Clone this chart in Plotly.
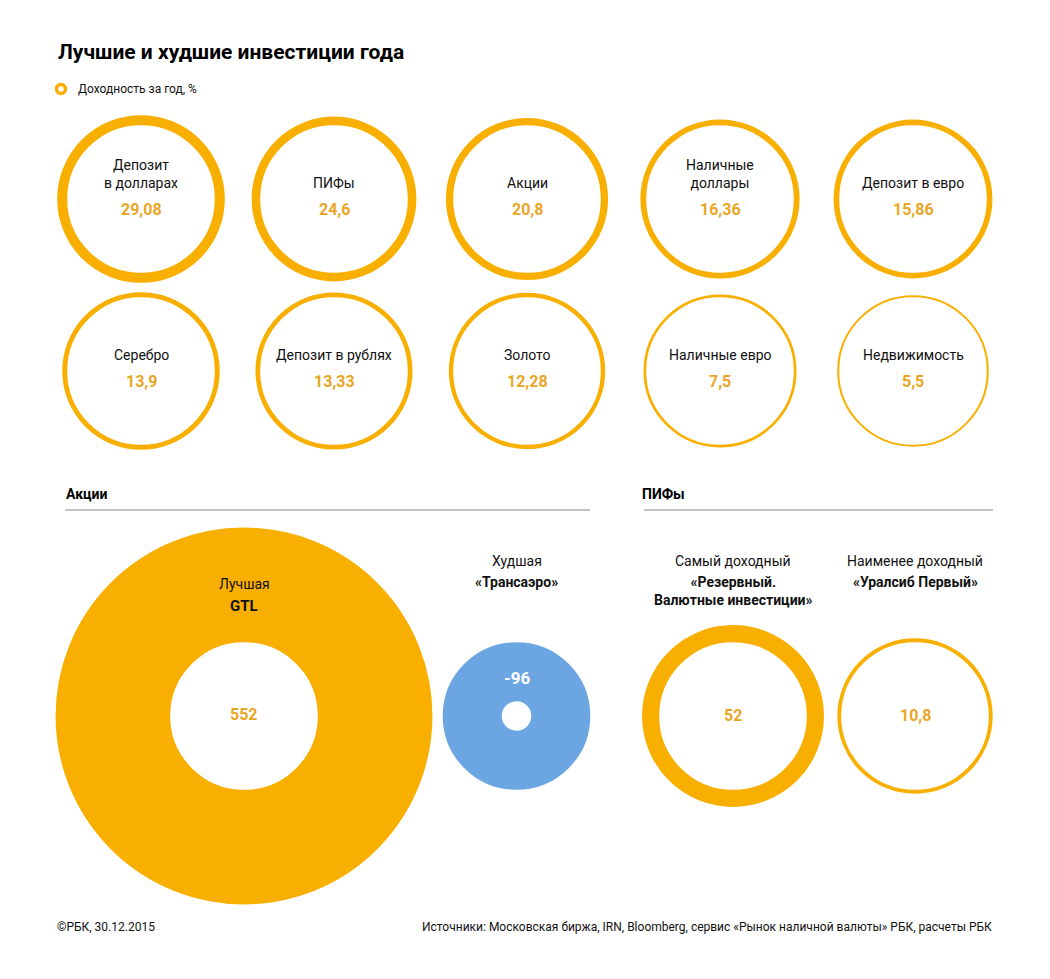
import plotly.graph_objects as go

# ---------------- data ----------------
grid_names = ["Депозит<br>в долларах", "ПИФы", "Акции", "Наличные<br>доллары", "Депозит в евро",
              "Серебро", "Депозит в рублях", "Золото", "Наличные евро", "Недвижимость"]
grid_values = [29.08, 24.6, 20.8, 16.36, 15.86, 13.9, 13.33, 12.28, 7.5, 5.5]

stock_labels = ["Лучшая", "Худшая"]
stock_names = ["GTL", "«Трансаэро»"]
stock_values = [552, -96]

fund_labels = ["Самый доходный", "Наименее доходный"]
fund_names = ["«Резервный.<br>Валютные инвестиции»", "«Уралсиб Первый»"]
fund_values = [52, 10.8]

title = "Лучшие и худшие инвестиции года"
legend_text = "Доходность за год, %"
footer_left = "©РБК, 30.12.2015"
footer_right = "Источники: Московская биржа, IRN, Bloomberg, сервис «Рынок наличной валюты» РБК, расчеты РБК"

# ---------------- style / layout ----------------
W, H = 1050, 979
ORANGE = "#F9AF00"
VAL_COL = "#E9A624"
BLUE = "#6CA6E2"
FONT = "Roboto, 'Open Sans', sans-serif"
NARROW = "'Liberation Sans Narrow', Roboto, sans-serif"

# base circle (radius R0) = initial investment (100 %);
# the ring area shows the gain: r = R0 * sqrt(1 + v/100)
R0 = 73.8

col_x = [141, 334, 527, 720, 913]
row_y = [199, 371]

big_x = [244, 516.5]
big_y = 716

fund_x = [733, 915]
fund_y = 716


def fmt(v):
    s = ("%g" % v)
    return s.replace(".", ",")


def scaled_r(v):
    return R0 * (1 + v / 100.0) ** 0.5


def ring(inner, outer):
    # marker line is stroked centred on the marker edge
    return inner + outer, outer - inner


def ring_for(v):
    r = scaled_r(v)
    return ring(min(R0, r), max(R0, r))


fig = go.Figure()
ann = []

# ----- grid of rings -----
gx, gy, gs, gw = [], [], [], []
for i, (n, v) in enumerate(zip(grid_names, grid_values)):
    x = col_x[i % 5]
    y = row_y[i // 5]
    s, w = ring_for(v)
    gx.append(x); gy.append(y); gs.append(s); gw.append(w)
    ann.append(dict(x=x, y=y - 6, text=n, yanchor="bottom", xanchor="center", showarrow=False,
                    font=dict(family=FONT, size=14, color="#111111")))
    ann.append(dict(x=x, y=y + 10, text="<b>%s</b>" % fmt(v), yanchor="middle", xanchor="center",
                    showarrow=False, font=dict(family=FONT, size=16, color=VAL_COL)))

fig.add_trace(go.Scatter(x=gx, y=gy, mode="markers", hoverinfo="skip",
                         marker=dict(symbol="circle", size=gs, color="white", opacity=1,
                                     line=dict(color=ORANGE, width=gw))))

# ----- fund rings -----
fx, fy, fs, fw = [], [], [], []
for i, (lab, n, v) in enumerate(zip(fund_labels, fund_names, fund_values)):
    s, w = ring_for(v)
    fx.append(fund_x[i]); fy.append(fund_y); fs.append(s); fw.append(w)
    ann.append(dict(x=fund_x[i], y=561, text=lab, yanchor="middle", xanchor="center", showarrow=False,
                    font=dict(family=FONT, size=14, color="#111111")))
    ann.append(dict(x=fund_x[i], y=572, text="<b>%s</b>" % n, yanchor="top", xanchor="center",
                    showarrow=False, font=dict(family=FONT, size=14, color="#111111")))
    ann.append(dict(x=fund_x[i], y=fund_y - 1, text="<b>%s</b>" % fmt(v), yanchor="middle",
                    xanchor="center", showarrow=False, font=dict(family=FONT, size=16, color=VAL_COL)))

fig.add_trace(go.Scatter(x=fx, y=fy, mode="markers", hoverinfo="skip",
                         marker=dict(symbol="circle", size=fs, color="white", opacity=1,
                                     line=dict(color=ORANGE, width=fw))))

# ----- stock donuts -----
cols = [ORANGE, BLUE]
for i, (lab, n, v) in enumerate(zip(stock_labels, stock_names, stock_values)):
    s, w = ring_for(v)
    fig.add_trace(go.Scatter(x=[big_x[i]], y=[big_y], mode="markers", hoverinfo="skip",
                             marker=dict(symbol="circle", size=s, color="white", opacity=1,
                                         line=dict(color=cols[i], width=w))))

ann.append(dict(x=big_x[0], y=584, text=stock_labels[0], yanchor="middle", showarrow=False,
                font=dict(family=FONT, size=14, color="#111111")))
ann.append(dict(x=big_x[0], y=606, text="<b>%s</b>" % stock_names[0], yanchor="middle", showarrow=False,
                font=dict(family=FONT, size=15, color="#111111")))
ann.append(dict(x=big_x[0], y=714, text="<b>%s</b>" % fmt(stock_values[0]), yanchor="middle",
                showarrow=False, font=dict(family=FONT, size=16, color=VAL_COL)))
ann.append(dict(x=big_x[1], y=561, text=stock_labels[1], yanchor="middle", showarrow=False,
                font=dict(family=FONT, size=14, color="#111111")))
ann.append(dict(x=big_x[1], y=582, text="<b>%s</b>" % stock_names[1], yanchor="middle", showarrow=False,
                font=dict(family=FONT, size=14, color="#111111")))
ann.append(dict(x=big_x[1], y=678, text="<b>%s</b>" % fmt(stock_values[1]), yanchor="middle",
                showarrow=False, font=dict(family=FONT, size=17, color="white")))

# ----- legend icon -----
fig.add_trace(go.Scatter(x=[61], y=[89], mode="markers", hoverinfo="skip",
                         marker=dict(symbol="circle", size=9, color="white", opacity=1,
                                     line=dict(color=ORANGE, width=3.5))))

# ----- titles and texts -----
ann.append(dict(x=56, y=52, text="<b>%s</b>" % title, xanchor="left", yanchor="middle", showarrow=False,
                font=dict(family=FONT, size=21, color="#000000")))
ann.append(dict(x=76, y=89, text=legend_text, xanchor="left", yanchor="middle", showarrow=False,
                font=dict(family=FONT, size=12, color="#111111")))
ann.append(dict(x=64, y=494, text="<b>Акции</b>", xanchor="left", yanchor="middle", showarrow=False,
                font=dict(family=FONT, size=14, color="#000000")))
ann.append(dict(x=640, y=494, text="<b>ПИФы</b>", xanchor="left", yanchor="middle", showarrow=False,
                font=dict(family=FONT, size=14, color="#000000")))
ann.append(dict(x=55, y=927, text=footer_left, xanchor="left", yanchor="middle", showarrow=False,
                font=dict(family=NARROW, size=12, color="#111111")))
ann.append(dict(x=994, y=927, text=footer_right, xanchor="right", yanchor="middle", showarrow=False,
                font=dict(family=NARROW, size=12, color="#111111")))

shapes = [
    dict(type="line", x0=65, x1=590, y0=510, y1=510, line=dict(color="#888888", width=1)),
    dict(type="line", x0=644, x1=993, y0=510, y1=510, line=dict(color="#888888", width=1)),
]

fig.update_layout(
    width=W, height=H, margin=dict(l=0, r=0, t=0, b=0),
    paper_bgcolor="white", plot_bgcolor="white", showlegend=False,
    xaxis=dict(range=[0, W], visible=False, fixedrange=True),
    yaxis=dict(range=[H, 0], visible=False, fixedrange=True),
    annotations=ann, shapes=shapes,
)
for a in fig.layout.annotations:
    a.xref = "x"; a.yref = "y"

fig.write_html("out.html", config={"displayModeBar": False},
               post_script="document.body.style.margin='0';document.body.style.overflow='hidden';")
